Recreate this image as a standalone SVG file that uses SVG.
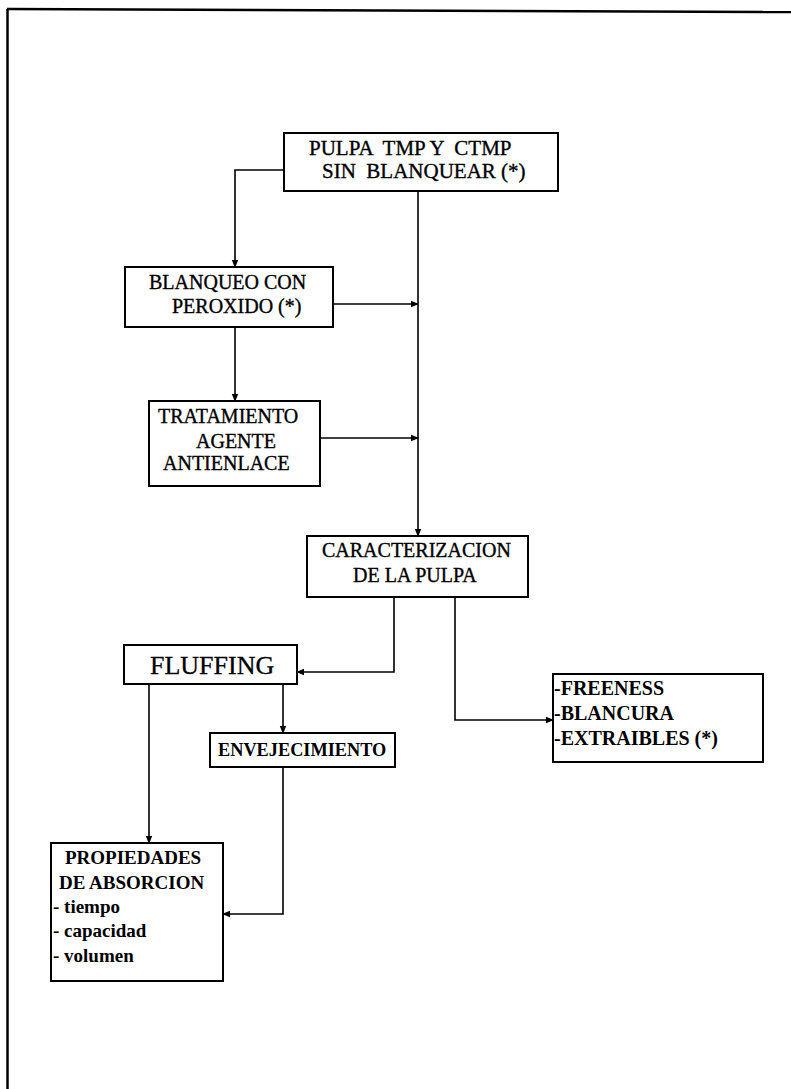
<svg xmlns="http://www.w3.org/2000/svg" width="791" height="1089" viewBox="0 0 791 1089" font-family="'Liberation Serif', 'Times New Roman', serif">
<style>
.box{fill:#fff;stroke:#000;stroke-width:2}
.ln{fill:none;stroke:#000;stroke-width:1.6}
.r{font-family:"Liberation Serif","Times New Roman",serif;font-size:20px;fill:#000;stroke:#000;stroke-width:0.35;white-space:pre}
.b{font-family:"Liberation Serif","Times New Roman",serif;font-size:20px;font-weight:bold;fill:#000;white-space:pre}
</style>
<defs>
<marker id="ah" markerWidth="8" markerHeight="8" refX="7" refY="4" orient="auto" markerUnits="userSpaceOnUse">
<path d="M0,0.8 L8,4 L0,7.2 Z" fill="#000"/>
</marker>
</defs>
<rect width="791" height="1089" fill="#fff"/>
<g id="frame">
<path d="M7,9 L791,12" stroke="#000" stroke-width="2.5" fill="none"/>
<path d="M7.5,9 L7.5,1089" stroke="#000" stroke-width="2.5" fill="none"/>
</g>
<g id="connectors">
<path class="ln" d="M284,170 L235,170 L235,267" marker-end="url(#ah)"/>
<path class="ln" d="M418,191 L418,536" marker-end="url(#ah)"/>
<path class="ln" d="M333,304 L418,304" marker-end="url(#ah)"/>
<path class="ln" d="M235,327 L235,401" marker-end="url(#ah)"/>
<path class="ln" d="M320,438 L418,438" marker-end="url(#ah)"/>
<path class="ln" d="M394,597 L394,672 L297,672" marker-end="url(#ah)"/>
<path class="ln" d="M455,597 L455,720 L553,720" marker-end="url(#ah)"/>
<path class="ln" d="M283,684 L283,733" marker-end="url(#ah)"/>
<path class="ln" d="M149,684 L149,843" marker-end="url(#ah)"/>
<path class="ln" d="M283,767 L283,914 L223,914" marker-end="url(#ah)"/>
</g>
<g id="pulpa">
<rect class="box" x="284" y="133" width="274" height="58"/>
<text class="r" x="309" y="155" style="font-size:21px">PULPA  TMP Y  CTMP</text>
<text class="r" x="322" y="178" style="font-size:21px">SIN  BLANQUEAR (*)</text>
</g>
<g id="blanqueo">
<rect class="box" x="125" y="267" width="208" height="60"/>
<text class="r" x="149" y="289">BLANQUEO CON</text>
<text class="r" x="172" y="313">PEROXIDO (*)</text>
</g>
<g id="tratamiento">
<rect class="box" x="149" y="401" width="171" height="85"/>
<text class="r" x="158" y="423">TRATAMIENTO</text>
<text class="r" x="196" y="448">AGENTE</text>
<text class="r" x="163" y="470">ANTIENLACE</text>
</g>
<g id="caracterizacion">
<rect class="box" x="307" y="536" width="221" height="61"/>
<text class="r" x="322" y="557">CARACTERIZACION</text>
<text class="r" x="353" y="582">DE LA PULPA</text>
</g>
<g id="fluffing">
<rect class="box" x="124" y="645" width="173" height="39"/>
<text class="r" x="150" y="674" style="font-size:26px;stroke-width:0.3">FLUFFING</text>
</g>
<g id="envejecimiento">
<rect class="box" x="210" y="733" width="185" height="34"/>
<text class="b" x="218" y="756" style="font-size:18.3px">ENVEJECIMIENTO</text>
</g>
<g id="freeness">
<rect class="box" x="553" y="674" width="210" height="88"/>
<text class="b" x="554" y="695">-FREENESS</text>
<text class="b" x="554" y="720">-BLANCURA</text>
<text class="b" x="554" y="745">-EXTRAIBLES (*)</text>
</g>
<g id="propiedades">
<rect class="box" x="51" y="843" width="172" height="138"/>
<text class="b" x="65" y="864" style="font-size:19px">PROPIEDADES</text>
<text class="b" x="59" y="889" style="font-size:19px">DE ABSORCION</text>
<text class="b" x="53" y="913" style="font-size:19px">- tiempo</text>
<text class="b" x="53" y="937" style="font-size:19px">- capacidad</text>
<text class="b" x="53" y="962" style="font-size:19px">- volumen</text>
</g>
</svg>
